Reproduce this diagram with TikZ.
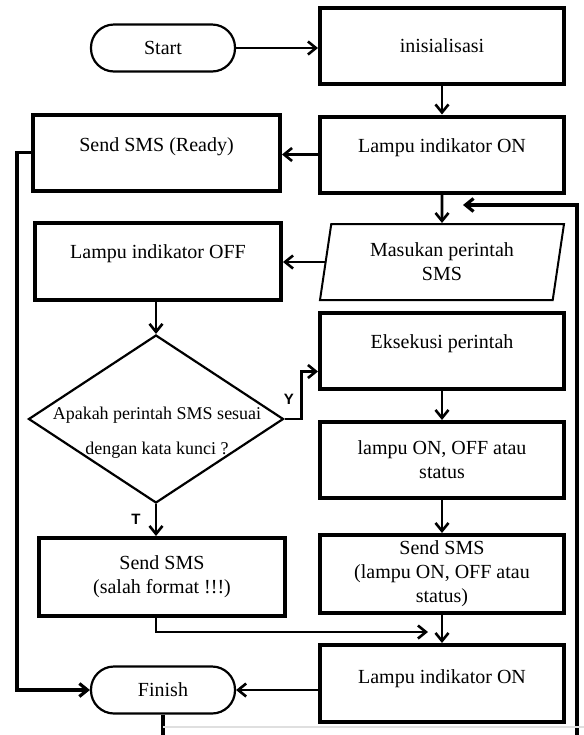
\documentclass[tikz,border=0pt]{standalone}
\usepackage{fontspec}
\setmainfont{Liberation Serif}
\newfontfamily\labelfont{Liberation Sans}
\usetikzlibrary{shapes.geometric,arrows.meta}

\begin{document}
\begin{tikzpicture}[x=0.5pt, y=-0.5pt, >={Straight Barb[length=4pt,width=6.5pt]},
    font=\fontsize{10}{12}\selectfont,
    proses/.style={draw, line width=2pt, minimum width=122pt, minimum height=38pt, inner sep=1pt, align=center},
    geser/.style={text height=7pt, text depth=#1},
    terminal/.style={draw, line width=1.1pt, rounded corners=11.5pt, minimum width=72pt, minimum height=23.5pt},
    masukan/.style={draw, line width=1pt, trapezium, trapezium left angle=75, trapezium right angle=105,
      trapezium stretches body, minimum width=122pt, minimum height=38pt, align=center, inner sep=1pt},
    keputusan/.style={draw, line width=1.1pt, diamond, minimum width=127.5pt, minimum height=84pt, inner sep=0pt},
    alur/.style={line width=1.3pt, ->},
    tanda/.style={font=\labelfont\bfseries\fontsize{7.5}{9}\selectfont}]
    \useasboundingbox (0,0) rectangle (584,735);
    \clip (0,0) rectangle (584,735);

    \node[terminal] (start) at (163,48) {Start};
    \node[proses] (init) at (442,46) {inisialisasi};
    \node[proses, geser=9.5pt] (lampuon) at (442,154.5) {Lampu indikator ON};
    \node[proses, geser=8.5pt, minimum width=123.5pt] (ready) at (156.5,152.5) {Send SMS (Ready)};

    \node[masukan] (input) at (442,262) {Masukan perintah\\SMS};
    \node[proses, geser=10.5pt, minimum width=123pt, minimum height=38.5pt] (lampuoff) at (158,261.5) {Lampu indikator OFF};

    \node[keputusan] (cek) at (156,419) {};
    \node[align=center, font=\fontsize{9}{17.5}\selectfont] (cektext) at (157,432.5)
      {Apakah perintah SMS sesuai\\dengan kata kunci ?};

    \node[proses, geser=9.5pt] (exec) at (442,350.5) {Eksekusi perintah};
    \node[proses] (status) at (442,460) {lampu ON, OFF atau\\status};
    \node[proses, minimum height=39pt] (sendstat) at (442,574)
      {Send SMS\\(lampu ON, OFF atau\\status)};
    \node[proses, minimum width=123pt, minimum height=39pt] (salah) at (162,577)
      {Send SMS\\(salah format !!!)};
    \node[proses, geser=7.5pt, minimum height=38.5pt] (lampuon2) at (442,683.5) {Lampu indikator ON};
    \node[terminal] (finish) at (163,690) {Finish};

    \node[tanda] (ya) at (289,399) {Y};
    \node[tanda] (tidak) at (136,519) {T};

    \coordinate (kiri) at (17,0);
    \coordinate (balik) at (463,205);
    \coordinate (bawah) at (577,745);
    \coordinate (gabung) at (428,632);

    \draw[alur] (start.east) -- (start.east -| init.west);
    \draw[alur] (init.south) -- (lampuon.north);
    \draw[alur] (lampuon.west) -- (lampuon.west -| ready.east);
    \draw[alur] (lampuon.south) -- (input.north);
    \draw[alur, line width=1.6pt] (bawah) |- (balik);
    \draw[alur] (input.west) -- (input.west -| lampuoff.east);
    \draw[alur] (lampuoff.south -| cek.north) -- (cek.north);

    \draw[alur] (cek.east) -- ++(17,0) |- ([yshift=-10.5pt]exec.west);
    \draw[alur] (cek.south) -- (cek.south |- salah.north);
    \draw[alur] (exec.south) -- (status.north);
    \draw[alur] (status.south) -- (sendstat.north);
    \draw[alur] (sendstat.south) -- (lampuon2.north);
    \draw[alur] (salah.south -| cek.south) |- (gabung);

    \draw[alur, line width=1.6pt] (ready.west) -| (kiri |- finish.west) -- (finish.west);
    \draw[alur] (lampuon2.west |- finish.east) -- (finish.east);
    \draw[line width=1.6pt] (finish.south) -- (finish.south |- bawah);
    \draw[gray!25, line width=0.6pt] (finish.south |- 0,727) -- (584,727);
\end{tikzpicture}
\end{document}
